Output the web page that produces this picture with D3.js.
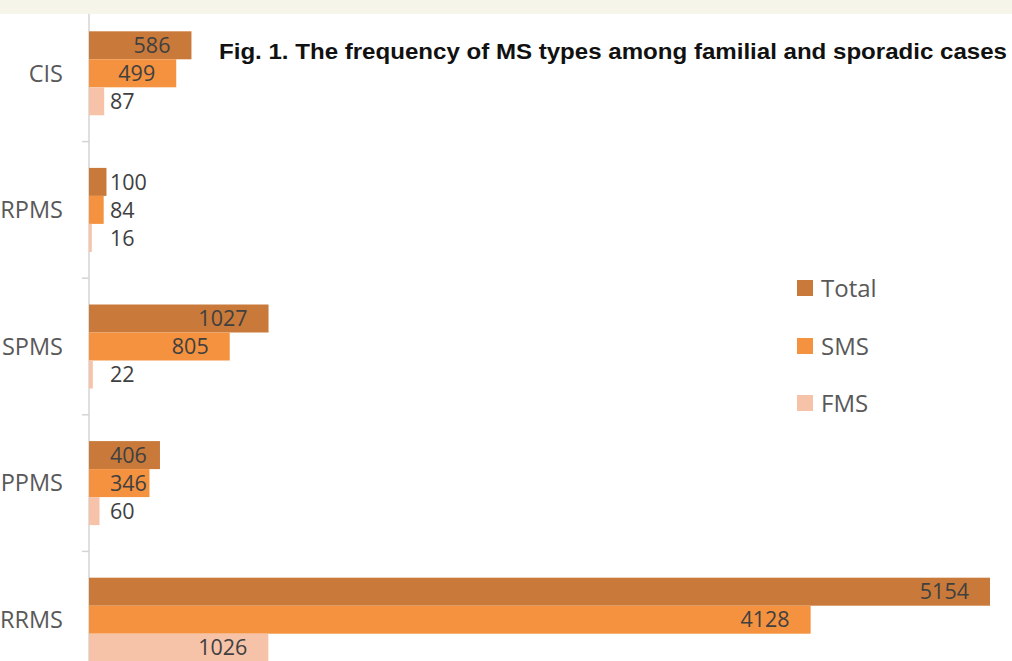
<!DOCTYPE html>
<html>
<head>
<meta charset="utf-8">
<script src="https://cdn.jsdelivr.net/npm/d3@7"></script>
<style>
  html, body { margin: 0; padding: 0; background: #ffffff; }
  svg { display: block; }
</style>
</head>
<body>
<svg id="chart" width="1012" height="661"></svg>
<script>
// ---- data ----
const categories = ["CIS", "PRPMS", "SPMS", "PPMS", "RRMS"];
const seriesNames = ["Total", "SMS", "FMS"];
const totalValues = [586, 100, 1027, 406, 5154];
const smsValues = [499, 84, 805, 346, 4128];
const fmsValues = [87, 16, 22, 60, 1026];
const titleText = "Fig. 1. The frequency of MS types among familial and sporadic cases";

// ---- styles ----
const colors = { Total: "#c97a3b", SMS: "#f4923f", FMS: "#f7c3a8" };
const valuesBySeries = { Total: totalValues, SMS: smsValues, FMS: fmsValues };

const svg = d3.select("#chart");
const W = 1012, H = 661;

// top beige band
svg.append("rect").attr("x", 0).attr("y", 0).attr("width", W).attr("height", 14)
  .attr("fill", "#f5f5e9");

const axisX = 89;
const x = d3.scaleLinear().domain([0, 5154]).range([axisX, 990]);
const y = d3.scaleBand().domain(categories).range([5, 688])
  .paddingInner(0.385).paddingOuter(0.1925);
const ySeries = d3.scaleBand().domain(seriesNames).range([0, y.bandwidth()]);

// axis line + ticks at band boundaries
const step = y.step();
const gAxis = svg.append("g");
gAxis.append("line").attr("x1", axisX).attr("x2", axisX).attr("y1", 14).attr("y2", H)
  .attr("stroke", "#d4d4d4").attr("stroke-width", 1.5);
categories.slice(1).forEach(c => {
  const yy = y(c) - step * y.paddingInner() / 2;
  gAxis.append("line").attr("x1", axisX - 7).attr("x2", axisX).attr("y1", yy).attr("y2", yy)
    .attr("stroke", "#d4d4d4").attr("stroke-width", 1.5);
});

// category labels
svg.append("g").selectAll("text").data(categories).join("text")
  .attr("x", 63)
  .attr("y", d => y(d) + y.bandwidth() / 2)
  .attr("dy", "0.35em")
  .attr("text-anchor", "end")
  .attr("font-family", "'Open Sans', sans-serif")
  .attr("font-size", 23.5)
  .attr("fill", "#595959")
  .text(d => d);

// bars
const barData = [];
categories.forEach((c, i) => {
  seriesNames.forEach(s => barData.push({ cat: c, series: s, value: valuesBySeries[s][i] }));
});

const gBars = svg.append("g");
gBars.selectAll("rect").data(barData).join("rect")
  .attr("x", axisX)
  .attr("y", d => y(d.cat) + ySeries(d.series))
  .attr("width", d => x(d.value) - axisX)
  .attr("height", ySeries.bandwidth())
  .attr("fill", d => colors[d.series]);

// data labels: inside end (21px from end), but never starting before x=110
const labels = svg.append("g").selectAll("text").data(barData).join("text")
  .attr("y", d => y(d.cat) + ySeries(d.series) + ySeries.bandwidth() / 2)
  .attr("dy", "0.36em")
  .attr("font-family", "'Open Sans', sans-serif")
  .attr("font-size", 21.5)
  .attr("fill", "#404040")
  .text(d => d.value);
labels.each(function(d) {
  const w = this.getComputedTextLength();
  const start = Math.max(x(d.value) - 21 - w, 110);
  d3.select(this).attr("x", start);
});

// title
svg.append("text")
  .attr("x", 219).attr("y", 59)
  .attr("font-family", "'Liberation Sans', Arial, sans-serif")
  .attr("font-weight", "bold")
  .attr("font-size", 22.5)
  .attr("fill", "#111111")
  .attr("textLength", 788)
  .attr("lengthAdjust", "spacingAndGlyphs")
  .text(titleText);

// legend
const legendY = [288, 346, 403];
const gLeg = svg.append("g");
seriesNames.forEach((s, i) => {
  gLeg.append("rect").attr("x", 797).attr("y", legendY[i] - 8).attr("width", 16).attr("height", 16)
    .attr("fill", colors[s]);
  gLeg.append("text").attr("x", 821).attr("y", legendY[i]).attr("dy", "0.36em")
    .attr("font-family", "'Open Sans', sans-serif")
    .attr("font-size", 24)
    .attr("fill", "#595959")
    .text(s);
});
</script>
</body>
</html>
